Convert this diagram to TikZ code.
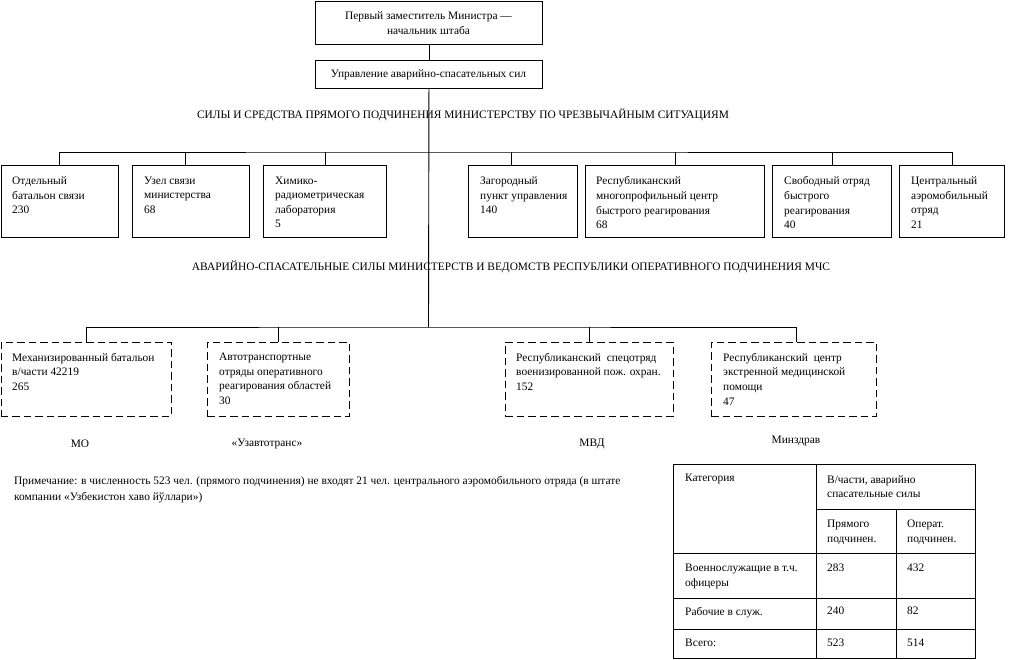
\documentclass[tikz,border=0pt]{standalone}
\usepackage{fontspec}
\setmainfont{Liberation Serif}
\begin{document}
\begin{tikzpicture}[x=1pt,y=-1pt,
  every node/.style={font=\fontsize{11.4}{14.6}\selectfont},
  frame/.style={draw, line width=0.9pt, rectangle, anchor=north west, inner sep=0pt},
  solidbox/.style={frame},
  dashbox/.style={frame, dash pattern=on 7.5pt off 4pt},
  txt/.style={anchor=north west, align=left, inner sep=0pt},
  ctxt/.style={anchor=center, align=center, inner sep=0pt},
  link/.style={line width=0.9pt}]
\useasboundingbox (0,0) rectangle (1019,660);

% top
\node[solidbox, minimum width=227, minimum height=43] (chief) at (315,1) {};
\node[ctxt] (chieft) at (428.5,23) {Первый заместитель Министра —\\начальник штаба};
\node[solidbox, minimum width=227, minimum height=28] (uass) at (315,60) {};
\node[ctxt] (uasst) at (428.5,74.5) {Управление аварийно-спасательных сил};
\coordinate (bus1) at (428.5,152);
\coordinate (bus2) at (428.5,327);
\draw[link] (chief.south) -- (uass.north);
\draw[link] (uass.south) -- (bus2);

\node[ctxt] (h1) at (463,114.5) {СИЛЫ И СРЕДСТВА ПРЯМОГО ПОДЧИНЕНИЯ МИНИСТЕРСТВУ ПО ЧРЕЗВЫЧАЙНЫМ СИТУАЦИЯМ};
\node[ctxt] (h2) at (511,266.5) {АВАРИЙНО-СПАСАТЕЛЬНЫЕ СИЛЫ МИНИСТЕРСТВ И ВЕДОМСТВ РЕСПУБЛИКИ ОПЕРАТИВНОГО ПОДЧИНЕНИЯ МЧС};

% row 1
\node[solidbox, minimum width=117.5, minimum height=72] (b1) at (0.5,165) {};
\node[solidbox, minimum width=117, minimum height=72] (b2) at (132,165) {};
\node[solidbox, minimum width=123, minimum height=72] (b3) at (263,165) {};
\node[solidbox, minimum width=109, minimum height=72] (b4) at (468,165) {};
\node[solidbox, minimum width=179, minimum height=72] (b5) at (585,165) {};
\node[solidbox, minimum width=119, minimum height=72] (b6) at (772,165) {};
\node[solidbox, minimum width=105, minimum height=72] (b7) at (899,165) {};

\node[txt] (b1t) at ([shift={(11.5,11.5)}]b1.north west) {Отдельный\\батальон связи\\230};
\node[txt] (b2t) at ([shift={(12,11.5)}]b2.north west) {Узел связи\\министерства\\68};
\node[txt] (b3t) at ([shift={(12,11.5)}]b3.north west) {Химико-\\радиометрическая\\лаборатория\\5};
\node[txt] (b4t) at ([shift={(12,11.5)}]b4.north west) {Загородный\\пункт управления\\140};
\node[txt] (b5t) at ([shift={(11,11.5)}]b5.north west) {Республиканский\\многопрофильный центр\\быстрого реагирования\\68};
\node[txt] (b6t) at ([shift={(12,11.5)}]b6.north west) {Свободный отряд\\быстрого\\реагирования\\40};
\node[txt] (b7t) at ([shift={(12,11.5)}]b7.north west) {Центральный\\аэромобильный\\отряд\\21};

\draw[link] (b1.north) |- (bus1) -| (b7.north);
\draw[link] ([xshift=-6pt]b2.north) -- ([xshift=-6pt]b2.north |- bus1);
\draw[link] ([xshift=-12pt]b4.north) -- ([xshift=-12pt]b4.north |- bus1);
\foreach \b in {b3,b5,b6} \draw[link] (\b.north) -- (\b.north |- bus1);

% row 2
\node[dashbox, minimum width=170.5, minimum height=74] (d1) at (0.5,342) {};
\node[dashbox, minimum width=142, minimum height=74] (d2) at (207,342) {};
\node[dashbox, minimum width=168, minimum height=74] (d3) at (505,342) {};
\node[dashbox, minimum width=165, minimum height=74] (d4) at (711,342) {};

\node[txt] (d1t) at ([shift={(11.5,11)}]d1.north west) {Механизированный батальон\\в/части 42219\\265};
\node[txt] (d2t) at ([shift={(12,11)}]d2.north west) {Автотранспортные\\отряды оперативного\\реагирования областей\\30};
\node[txt] (d3t) at ([shift={(11,11)}]d3.north west) {Республиканский\ \ спецотряд\\военизированной пож. охран.\\152};
\node[txt] (d4t) at ([shift={(12,11)}]d4.north west) {Республиканский\ \ центр\\экстренной медицинской\\помощи\\47};

\draw[link] (d1.north) |- (bus2) -| ([xshift=2.5pt]d4.north);
\foreach \b in {d2,d3} \draw[link] (\b.north) -- (\b.north |- bus2);

% agencies
\node[ctxt] (mo) at (80,444) {МО};
\node[ctxt] (uzat) at (267,444) {«Узавтотранс»};
\node[ctxt] (mvd) at (592,444) {МВД};
\node[ctxt] (minz) at (796,441) {Минздрав};

% note
\node[txt, font=\fontsize{11.4}{16}\selectfont] (note) at (14,476) {Примечание: в численность 523 чел. (прямого подчинения) не входят 21 чел. центрального аэромобильного отряда (в штате\\компании «Узбекистон хаво йўллари»)};

% table
\draw[link] (673,464) rectangle (975,658);
\draw[link] (816,509) -- (975,509);
\draw[link] (673,553) -- (975,553);
\draw[link] (673,598) -- (975,598);
\draw[link] (673,629) -- (975,629);
\draw[link] (816,464) -- (816,658);
\draw[link] (896,509) -- (896,658);

\node[txt] (c11) at (685,474) {Категория};
\node[txt] (c12) at (827,475) {В/части, аварийно\\спасательные силы};
\node[txt] (c22) at (827,520) {Прямого\\подчинен.};
\node[txt] (c23) at (907,520) {Операт.\\подчинен.};
\node[txt] (c31) at (685,564) {Военнослужащие в т.ч.\\офицеры};
\node[txt] (c32) at (827,564) {283};
\node[txt] (c33) at (907,564) {432};
\node[txt] (c41) at (685,607) {Рабочие в служ.};
\node[txt] (c42) at (827,607) {240};
\node[txt] (c43) at (907,607) {82};
\node[txt] (c51) at (685,639) {Всего:};
\node[txt] (c52) at (827,639) {523};
\node[txt] (c53) at (907,639) {514};
\end{tikzpicture}
\end{document}
